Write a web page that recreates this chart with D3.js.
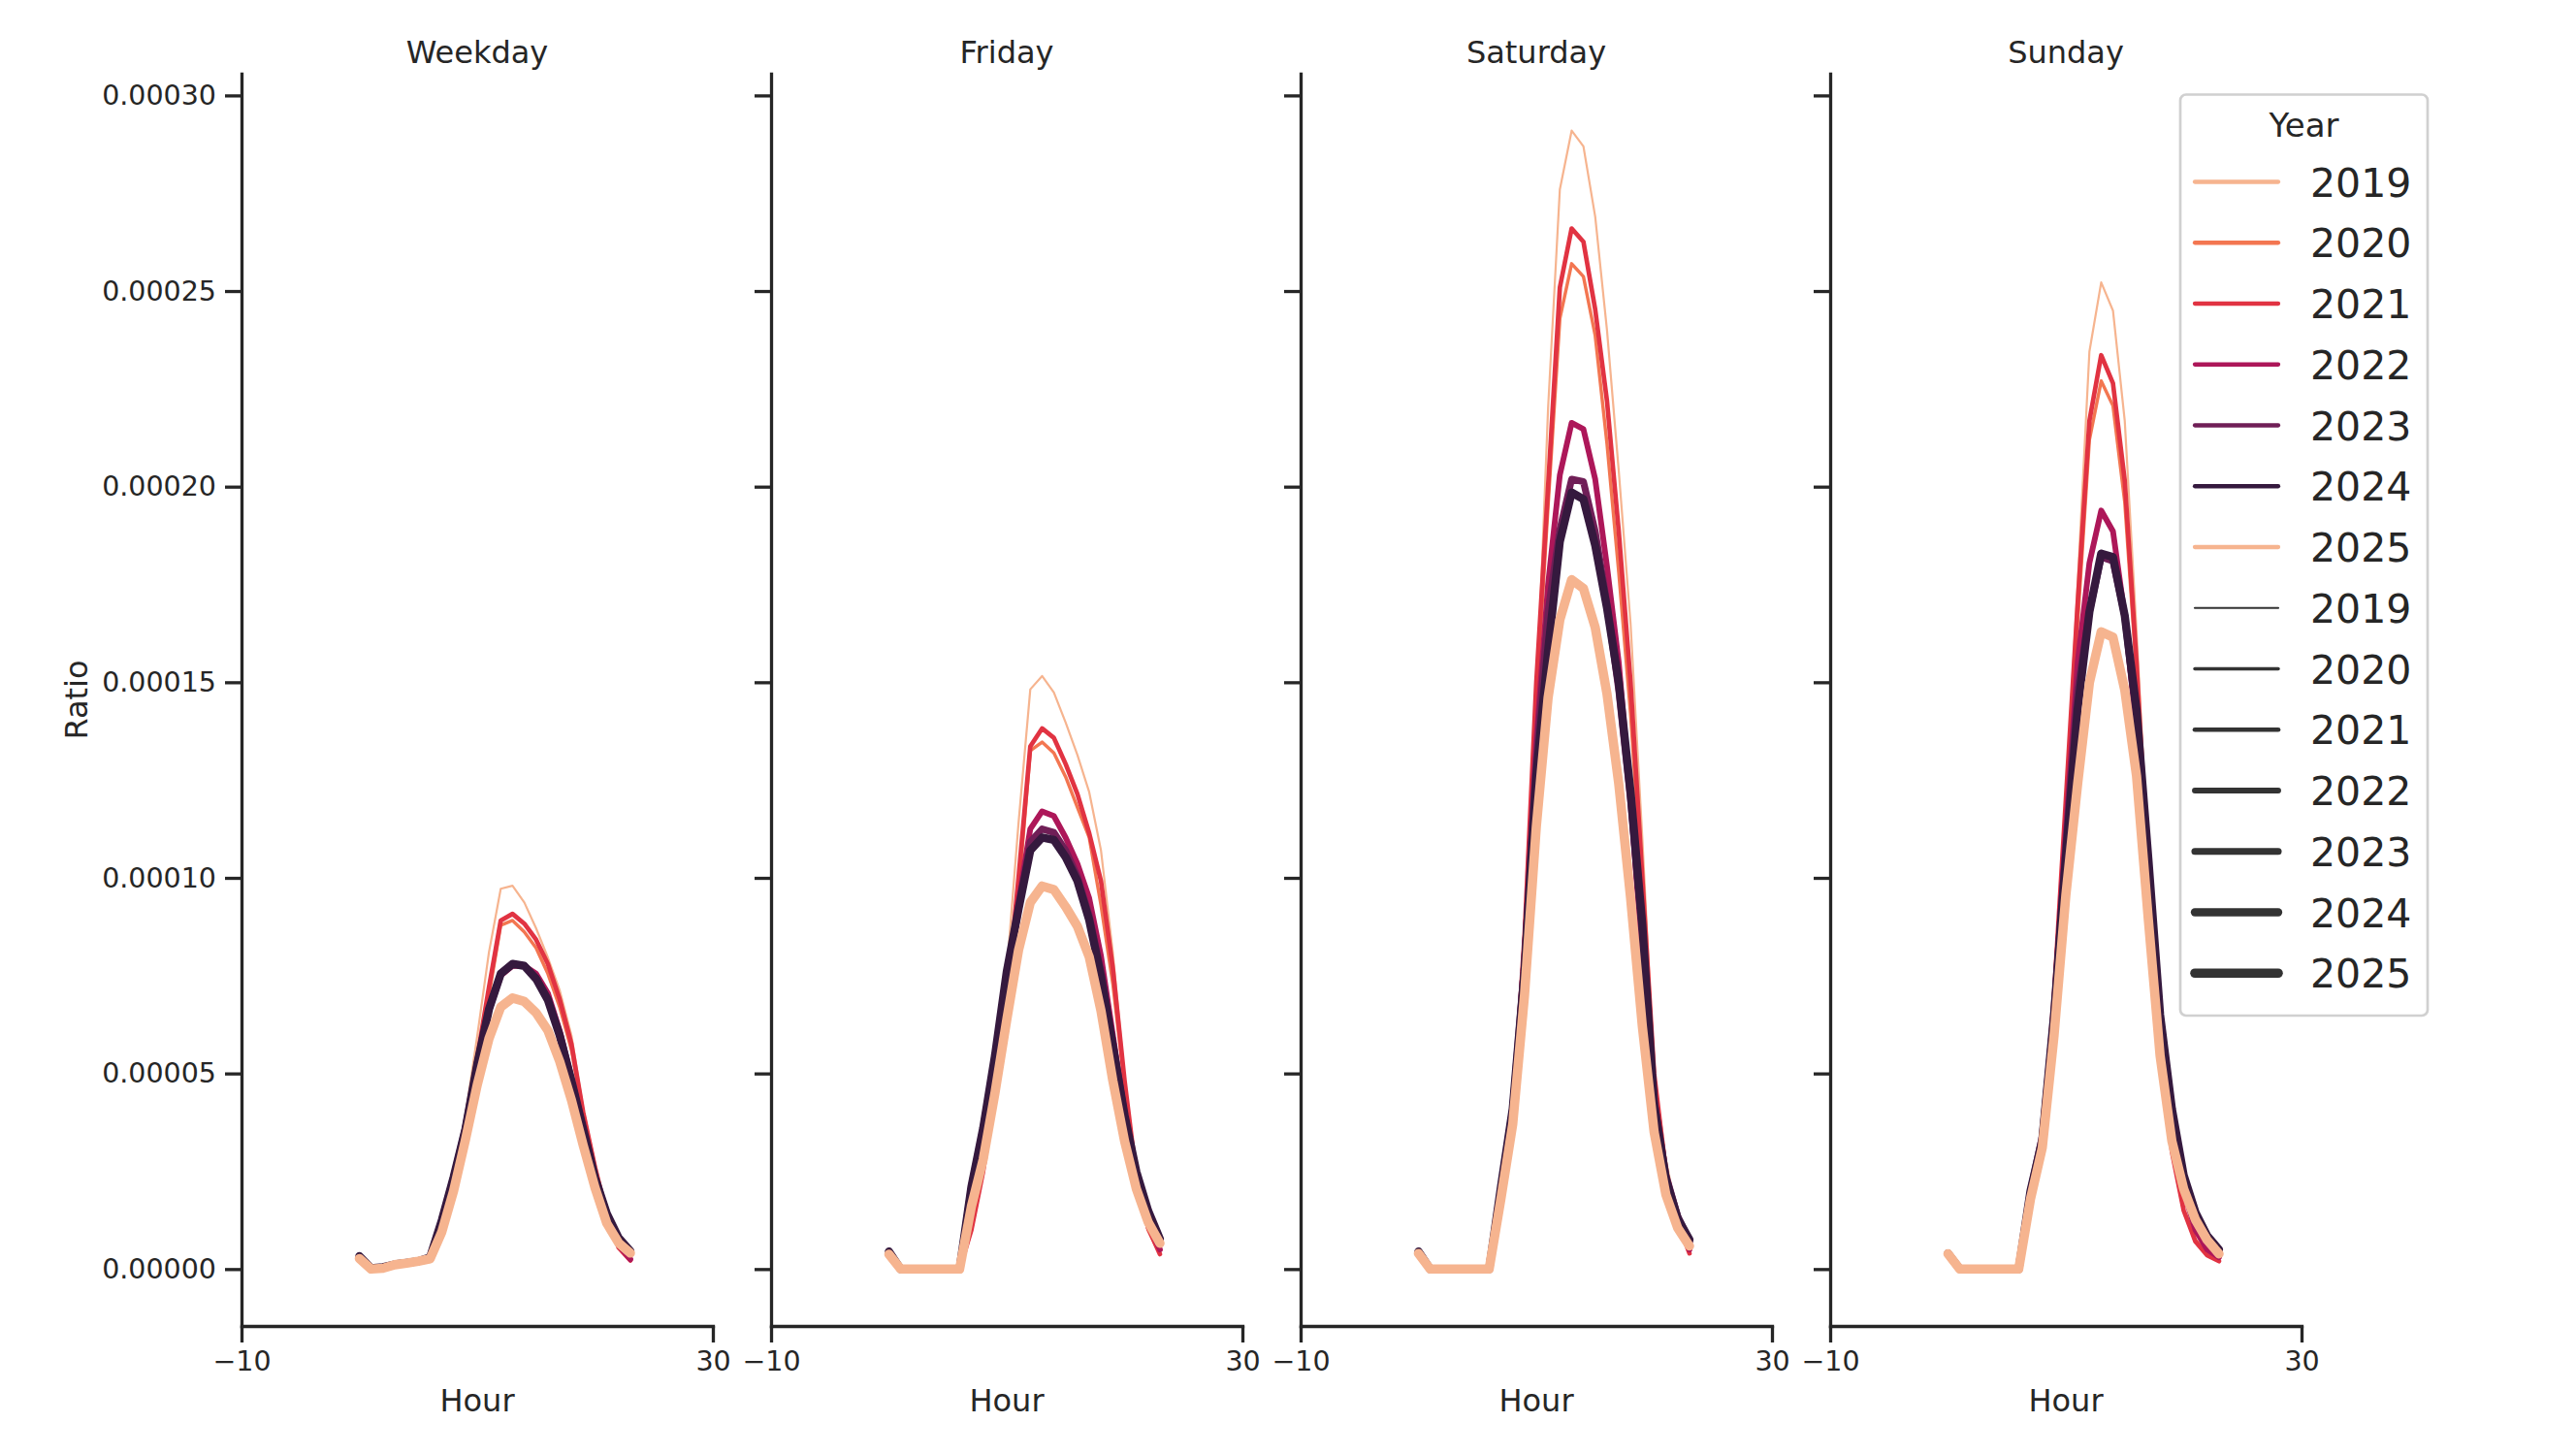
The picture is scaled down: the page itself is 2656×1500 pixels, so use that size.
<!DOCTYPE html>
<html><head><meta charset="utf-8">
<script src="https://cdn.jsdelivr.net/npm/d3@7"></script>
<style>
body{margin:0;background:#fff}
svg{display:block}
text{font-family:"DejaVu Sans",sans-serif;fill:#262626}
</style>
</head><body>
<svg id="chart" width="2656" height="1500"></svg>
<script>
// ---------------- data (values in units of 1e-5) ----------------
const VALUE_UNIT = 1e-5;
const panels = ["Weekday", "Friday", "Saturday", "Sunday"];
const years = [2019, 2020, 2021, 2022, 2023, 2024, 2025];
const hours = [0,1,2,3,4,5,6,7,8,9,10,11,12,13,14,15,16,17,18,19,20,21,22,23];

const weekdayValues = [
  [0.35,0.02,0.05,0.12,0.16,0.20,0.30,1.15,2.25,3.90,5.95,8.10,9.72,9.80,9.37,8.71,7.96,7.13,5.97,4.10,2.70,1.50,0.70,0.35],
  [0.32,0.02,0.05,0.12,0.16,0.20,0.30,1.15,2.25,3.75,5.30,7.00,8.79,8.91,8.62,8.21,7.55,6.70,5.60,3.95,2.60,1.45,0.62,0.28],
  [0.32,0.02,0.05,0.12,0.16,0.20,0.30,1.15,2.25,3.75,5.40,7.20,8.91,9.08,8.83,8.42,7.80,6.90,5.75,4.00,2.60,1.40,0.55,0.22],
  [0.32,0.02,0.05,0.12,0.16,0.20,0.30,1.20,2.30,3.60,5.25,6.60,7.50,7.75,7.75,7.55,7.05,6.10,4.90,3.65,2.40,1.40,0.62,0.25],
  [0.32,0.02,0.05,0.12,0.16,0.20,0.30,1.25,2.35,3.60,5.25,6.65,7.55,7.80,7.75,7.45,6.90,6.00,4.81,3.57,2.35,1.42,0.76,0.40],
  [0.33,0.02,0.05,0.12,0.16,0.20,0.30,1.25,2.35,3.57,5.23,6.64,7.55,7.80,7.75,7.42,6.88,5.97,4.81,3.57,2.33,1.42,0.80,0.46],
  [0.27,0.00,0.02,0.11,0.15,0.20,0.26,0.95,2.00,3.30,4.70,5.89,6.70,6.93,6.84,6.55,6.10,5.31,4.32,3.16,2.08,1.17,0.67,0.41]
];
const fridayValues = [
  [0.45,0,0,0,0,0,0,1.10,2.60,4.60,7.60,11.40,14.82,15.16,14.74,13.97,13.14,12.19,10.70,8.10,4.90,2.16,1.16,0.61],
  [0.45,0,0,0,0,0,0,1.00,2.50,4.30,6.70,9.60,13.25,13.47,13.19,12.58,11.80,11.03,9.30,7.30,4.70,2.30,1.00,0.40],
  [0.45,0,0,0,0,0,0,1.00,2.50,4.40,6.90,10.00,13.36,13.82,13.58,12.91,12.14,11.14,9.92,7.70,4.82,2.38,1.05,0.38],
  [0.45,0,0,0,0,0,0,2.00,3.50,5.30,7.40,9.40,11.25,11.70,11.58,11.03,10.36,9.48,8.00,6.00,4.00,2.40,1.20,0.50],
  [0.45,0,0,0,0,0,0,2.10,3.60,5.40,7.50,9.20,10.92,11.25,11.16,10.70,10.03,9.03,7.60,5.80,3.95,2.45,1.40,0.72],
  [0.45,0,0,0,0,0,0,2.10,3.60,5.45,7.60,9.20,10.70,11.03,10.97,10.53,9.92,8.92,7.48,5.71,3.93,2.49,1.49,0.77],
  [0.38,0,0,0,0,0,0,1.60,2.80,4.50,6.37,8.15,9.37,9.79,9.70,9.26,8.76,7.98,6.60,4.82,3.27,2.05,1.20,0.66]
];
const saturdayValues = [
  [0.45,0,0,0,0,0,0,1.80,3.80,8.30,14.30,22.00,27.60,29.10,28.70,26.90,24.00,20.40,16.50,11.00,5.00,2.80,1.30,0.60],
  [0.45,0,0,0,0,0,0,1.80,3.80,8.30,14.50,19.50,24.30,25.70,25.37,23.86,21.10,17.80,14.20,9.60,4.80,2.40,1.20,0.50],
  [0.45,0,0,0,0,0,0,1.80,3.80,8.50,15.00,20.00,25.09,26.60,26.26,24.53,22.19,18.85,15.00,10.00,5.00,2.50,1.20,0.40],
  [0.45,0,0,0,0,0,0,2.00,4.00,8.00,13.50,17.50,20.30,21.63,21.47,20.19,17.96,15.50,12.00,8.00,4.40,2.40,1.30,0.50],
  [0.45,0,0,0,0,0,0,2.10,4.10,7.80,13.00,16.80,18.90,20.19,20.13,18.85,17.00,14.80,12.00,8.50,4.30,2.40,1.35,0.70],
  [0.45,0,0,0,0,0,0,2.10,4.10,7.60,12.60,15.80,18.60,19.85,19.68,18.50,16.90,15.00,12.20,8.80,4.20,2.30,1.30,0.75],
  [0.40,0,0,0,0,0,0,1.80,3.70,7.00,11.30,14.60,16.60,17.62,17.40,16.40,14.70,12.40,9.50,6.20,3.50,1.90,1.05,0.59]
];
const sundayValues = [
  [0.40,0,0,0,0,0,0,2.00,3.40,7.00,12.00,17.50,23.45,25.22,24.50,21.68,16.30,10.50,6.00,3.50,2.00,1.00,0.50,0.30],
  [0.40,0,0,0,0,0,0,2.00,3.40,6.90,11.80,16.50,21.20,22.70,22.07,19.60,15.20,9.80,5.50,3.00,1.50,0.75,0.40,0.25],
  [0.40,0,0,0,0,0,0,2.00,3.40,7.00,12.00,17.00,21.68,23.36,22.64,20.15,15.50,10.00,5.60,3.00,1.50,0.70,0.35,0.20],
  [0.40,0,0,0,0,0,0,2.00,3.40,6.70,11.20,15.50,18.05,19.39,18.86,16.70,13.80,10.00,6.00,3.50,2.00,1.00,0.50,0.30],
  [0.40,0,0,0,0,0,0,2.00,3.40,6.50,10.80,14.80,16.80,18.20,18.10,16.70,14.00,10.40,6.40,4.00,2.30,1.40,0.80,0.45],
  [0.40,0,0,0,0,0,0,2.00,3.30,6.50,10.50,14.30,16.80,18.29,18.20,16.70,14.30,10.50,6.50,4.10,2.40,1.45,0.85,0.50],
  [0.39,0,0,0,0,0,0,1.79,3.10,5.97,9.55,12.40,14.99,16.29,16.15,14.80,12.60,8.94,5.45,3.27,2.05,1.26,0.74,0.39]
];
const panelValues = [weekdayValues, fridayValues, saturdayValues, sundayValues];

const yTicks = [0, 0.00005, 0.00010, 0.00015, 0.00020, 0.00025, 0.00030];
const xTicks = [-10, 30];
const xDomain = [-10, 30];

// ---------------- styles ----------------
const yearColors = ["#f6b48f", "#f37651", "#e13342", "#ad1759", "#701f57", "#35193e", "#f6b48f"];
const yearWidths = [2.2, 3.43, 4.67, 5.9, 7.13, 8.37, 9.6];
const INK = "#262626";

// ---------------- layout ----------------
const svg = d3.select("#chart");
const AX_TOP = 76, AX_BOTTOM = 1367, AX_W = 486;
const panelLefts = [249, 795, 1341, 1887];

// y domain like matplotlib autoscale (5% margins)
const allVals = panelValues.flat(2).map(v => v * VALUE_UNIT);
const vMax = d3.max(allVals), vMin = d3.min(allVals);
const span = vMax - vMin;
const y = d3.scaleLinear().domain([vMin - 0.05 * span, vMax + 0.05 * span]).range([AX_BOTTOM, AX_TOP]);

const fmtY = d3.format(".5f");
const fmtX = d => d < 0 ? "\u2212" + Math.abs(d) : String(d);

panels.forEach((name, pi) => {
  const left = panelLefts[pi];
  const x = d3.scaleLinear().domain(xDomain).range([left, left + AX_W]);
  const g = svg.append("g");

  const line = d3.line().x(d => x(d.h)).y(d => y(d.v));
  years.forEach((yr, yi) => {
    const pts = hours.map((h, i) => ({h, v: panelValues[pi][yi][i] * VALUE_UNIT}));
    g.append("path").datum(pts)
      .attr("d", line)
      .attr("fill", "none")
      .attr("stroke", yearColors[yi])
      .attr("stroke-width", yearWidths[yi])
      .attr("stroke-linejoin", "round")
      .attr("stroke-linecap", "round");
  });

  const yAxis = d3.axisLeft(y).tickValues(yTicks).tickSize(17).tickSizeOuter(0).tickPadding(9)
    .tickFormat(pi === 0 ? fmtY : () => "");
  const ya = g.append("g").attr("transform", `translate(${left},0)`).call(yAxis);
  ya.select(".domain").attr("stroke", INK).attr("stroke-width", 3.3).attr("stroke-linecap", "square");
  ya.selectAll(".tick line").attr("stroke", INK).attr("stroke-width", 3.3);
  ya.selectAll(".tick text").attr("fill", INK).style("font-size", "28.5px").style("font-family", "DejaVu Sans");

  const xAxis = d3.axisBottom(x).tickValues(xTicks).tickSize(17).tickSizeOuter(0).tickPadding(9).tickFormat(fmtX);
  const xa = g.append("g").attr("transform", `translate(0,${AX_BOTTOM})`).call(xAxis);
  xa.select(".domain").attr("stroke", INK).attr("stroke-width", 3.3).attr("stroke-linecap", "square");
  xa.selectAll(".tick line").attr("stroke", INK).attr("stroke-width", 3.3);
  xa.selectAll(".tick text").attr("fill", INK).style("font-size", "28.5px").style("font-family", "DejaVu Sans");

  g.append("text").attr("x", left + AX_W / 2).attr("y", 65).attr("text-anchor", "middle")
    .style("font-size", "32px").text(name);
  g.append("text").attr("x", left + AX_W / 2).attr("y", 1455).attr("text-anchor", "middle")
    .style("font-size", "32px").text("Hour");
});

svg.append("text").attr("transform", `translate(90,${(AX_TOP + AX_BOTTOM) / 2}) rotate(-90)`)
  .attr("text-anchor", "middle").style("font-size", "32px").text("Ratio");

// ---------------- legend ----------------
const lg = svg.append("g");
lg.append("rect").attr("x", 2248).attr("y", 97.5).attr("width", 255).attr("height", 949.5)
  .attr("rx", 6).attr("fill", "#fff").attr("stroke", "#d0d0d0").attr("stroke-width", 2.7);
lg.append("text").attr("x", 2375.5).attr("y", 141).attr("text-anchor", "middle")
  .style("font-size", "34px").text("Year");
const legendRows = [];
years.forEach((yr, i) => legendRows.push({label: yr, color: yearColors[i], width: 4.3}));
years.forEach((yr, i) => legendRows.push({label: yr, color: "#333333", width: yearWidths[i]}));
legendRows.forEach((r, i) => {
  const cy = 187.5 + 62.75 * i;
  lg.append("line").attr("x1", 2263).attr("x2", 2349).attr("y1", cy).attr("y2", cy)
    .attr("stroke", r.color).attr("stroke-width", r.width).attr("stroke-linecap", "round");
  lg.append("text").attr("x", 2382).attr("y", cy + 15).style("font-size", "41px").text(r.label);
});
</script>
</body></html>
